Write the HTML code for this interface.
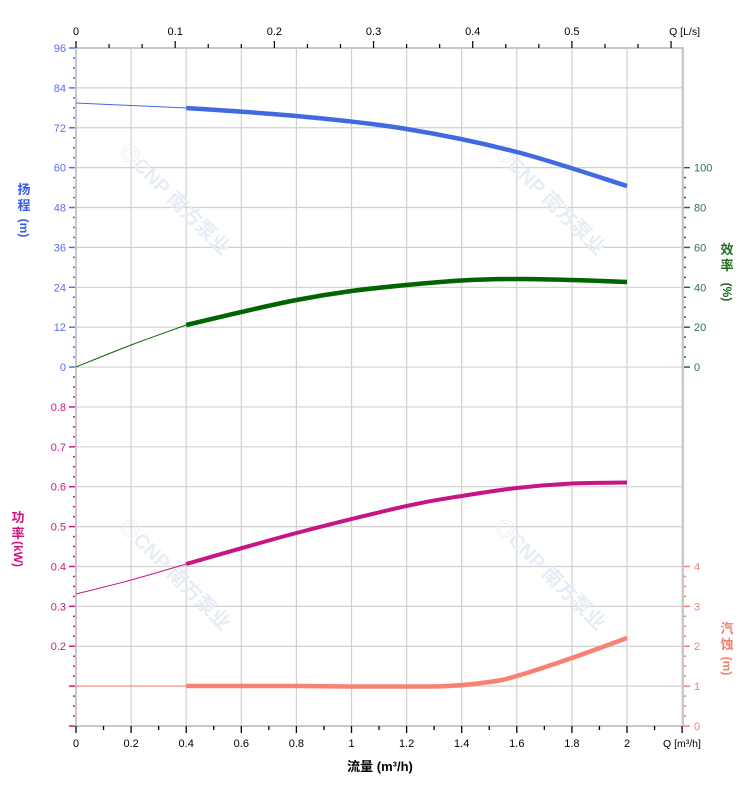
<!DOCTYPE html>
<html><head><meta charset="utf-8"><style>
html,body{margin:0;padding:0;background:#fff;width:752px;height:797px;overflow:hidden}
svg{display:block;font-family:"Liberation Sans","Noto Sans CJK SC",sans-serif}
</style></head><body>
<svg id="s" width="752" height="797" xmlns="http://www.w3.org/2000/svg"></svg>
<script>
var s=document.getElementById('s'),h='';
var X0=76,X1=683,Y0=48,Y1=726,px=275.5,st=(Y1-Y0)/17;
function X(q){return X0+q*px}
function Yr(k){return Y0+k*st}
for(var i=0;i<=11;i++){var x=X0+i*px*0.2;h+='<line x1="'+x+'" y1="'+Y0+'" x2="'+x+'" y2="'+Y1+'" stroke="#d0d0d0" stroke-width="1.2"/>';}
for(var k=0;k<=17;k++){var y=Yr(k);h+='<line x1="'+X0+'" y1="'+y+'" x2="'+X1+'" y2="'+y+'" stroke="#d0d0d0" stroke-width="1.2"/>';}
function wm(x,y){h+='<text x="'+x+'" y="'+y+'" transform="rotate(45 '+x+' '+y+')" font-size="20" font-weight="bold" fill="#e6edf6">◎CNP 南方泵业</text>';}
wm(118,152);wm(493,152);wm(118,527);wm(493,527);
h+='<rect x="'+X0+'" y="'+Y0+'" width="'+(X1-X0)+'" height="'+(Y1-Y0)+'" fill="none" stroke="#c8c8c8" stroke-width="2"/>';
for(var i=0;i<=22;i++){var x=X0+i*px*0.1;h+='<line x1="'+x+'" y1="'+Y1+'" x2="'+x+'" y2="'+(Y1+(i%2?4:7))+'" stroke="#000" stroke-width="1.3"/>';
 if(i%2==0&&i<=20){var v=i/10;h+='<text x="'+x+'" y="747" font-size="11" text-anchor="middle" fill="#000">'+(i==0?'0':i==10?'1':i==20?'2':v.toFixed(1))+'</text>';}}
h+='<text x="663" y="747" font-size="10.5" fill="#000">Q [m³/h]</text>';
h+='<text x="380" y="771" font-size="13" font-weight="bold" text-anchor="middle" fill="#000">流量 (m³/h)</text>';
var tp=px*0.36;
for(var i=0;i<=18;i++){var x=X0+i*tp/3;if(x>X1+1)break;h+='<line x1="'+x+'" y1="'+(Y0-(i%3?4:7))+'" x2="'+x+'" y2="'+Y0+'" stroke="#000" stroke-width="1.2"/>';
 if(i%3==0&&i<=15){h+='<text x="'+x+'" y="35" font-size="11" text-anchor="middle" fill="#000">'+(i==0?'0':(i/30).toFixed(1))+'</text>';}}
h+='<text x="700" y="35" font-size="10.5" text-anchor="end" fill="#000">Q [L/s]</text>';
var blue='#5b6cf0',mag='#d0157f';
for(var k=0;k<=32;k++){var y=Y0+k*st/4,maj=k%4==0;h+='<line x1="'+(X0-(maj?7:3))+'" y1="'+y+'" x2="'+(X0-1)+'" y2="'+y+'" stroke="'+blue+'" stroke-width="1.5"/>';
 if(maj)h+='<text x="66" y="'+(y+4)+'" font-size="11" text-anchor="end" fill="'+blue+'">'+(96-k*3)+'</text>';}
for(var k=33;k<=68;k++){var y=Y0+k*st/4,maj=k%4==0;h+='<line x1="'+(X0-(maj?7:3))+'" y1="'+y+'" x2="'+(X0-1)+'" y2="'+y+'" stroke="'+mag+'" stroke-width="1.5"/>';
 if(maj&&k>=36&&k<=60)h+='<text x="66" y="'+(y+4)+'" font-size="11" text-anchor="end" fill="'+mag+'">'+(0.8-(k-36)/40).toFixed(1)+'</text>';}
h+='<text x="24" y="194" font-size="13" font-weight="bold" text-anchor="middle" fill="#3a5ce0">扬</text><text x="24" y="210" font-size="13" font-weight="bold" text-anchor="middle" fill="#3a5ce0">程</text><text x="24" y="232" font-size="12" font-weight="bold" text-anchor="middle" fill="#3a5ce0" transform="rotate(90 24 228)">(m)</text>';
h+='<text x="18" y="522" font-size="13" font-weight="bold" text-anchor="middle" fill="'+mag+'">功</text><text x="18" y="538" font-size="13" font-weight="bold" text-anchor="middle" fill="'+mag+'">率</text><text x="18" y="558" font-size="12" font-weight="bold" text-anchor="middle" fill="'+mag+'" transform="rotate(90 18 554)">(kW)</text>';
var gr='#1f6b1f';
for(var k=12;k<=32;k++){var y=Y0+k*st/4,maj=k%4==0;h+='<line x1="'+(X1+1)+'" y1="'+y+'" x2="'+(X1+(maj?7:3))+'" y2="'+y+'" stroke="'+gr+'" stroke-width="1.5"/>';
 if(maj)h+='<text x="694" y="'+(y+4)+'" font-size="11" fill="#2e6e5e">'+((32-k)*5)+'</text>';}
for(var k=52;k<=68;k++){var y=Y0+k*st/4,maj=k%4==0;h+='<line x1="'+(X1+1)+'" y1="'+y+'" x2="'+(X1+(maj?7:3))+'" y2="'+y+'" stroke="#f08070" stroke-width="1.5"/>';
 if(maj)h+='<text x="694" y="'+(y+4)+'" font-size="11" fill="#f08070">'+((68-k)/4)+'</text>';}
h+='<text x="727" y="254" font-size="13" font-weight="bold" text-anchor="middle" fill="'+gr+'">效</text><text x="727" y="270" font-size="13" font-weight="bold" text-anchor="middle" fill="'+gr+'">率</text><text x="727" y="296" font-size="12" font-weight="bold" text-anchor="middle" fill="'+gr+'" transform="rotate(90 727 292)">(%)</text>';
h+='<text x="727" y="633" font-size="13" font-weight="bold" text-anchor="middle" fill="#f08070">汽</text><text x="727" y="649" font-size="13" font-weight="bold" text-anchor="middle" fill="#f08070">蚀</text><text x="727" y="670" font-size="12" font-weight="bold" text-anchor="middle" fill="#f08070" transform="rotate(90 727 666)">(m)</text>';
function path(pts){var d='M'+X(pts[0][0])+','+pts[0][1];for(var i=1;i<pts.length;i++){var p0=pts[Math.max(0,i-2)],p1=pts[i-1],p2=pts[i],p3=pts[Math.min(pts.length-1,i+1)];
 var c1x=X(p1[0])+(X(p2[0])-X(p0[0]))/6,c1y=p1[1]+(p2[1]-p0[1])/6,c2x=X(p2[0])-(X(p3[0])-X(p1[0]))/6,c2y=p2[1]-(p3[1]-p1[1])/6;d+=' C'+c1x+','+c1y+' '+c2x+','+c2y+' '+X(p2[0])+','+p2[1];}return d;}
function curve(thin,thick,col,w){h+='<path d="'+path(thin)+'" fill="none" stroke="'+col+'" stroke-width="1"/>';h+='<path d="'+path(thick)+'" fill="none" stroke="'+col+'" stroke-width="'+w+'"/>';}
curve([[0,103],[0.2,105.5],[0.4,108]],[[0.4,108],[0.8,116],[1.2,129],[1.6,152],[2,186]],'#4169e1',4.5);
curve([[0,367],[0.2,345],[0.4,325]],[[0.4,325],[0.6,312],[0.8,300],[1.0,291],[1.2,285],[1.4,280.5],[1.6,279],[1.8,280],[2,282]],'#006400',4.5);
curve([[0,594],[0.2,580],[0.4,564]],[[0.4,564],[0.8,533],[1.2,506],[1.4,496],[1.6,488],[1.8,483.5],[2,482.5]],'#c71585',4);
curve([[0,686],[0.4,686]],[[0.4,686],[0.8,686],[1.0,686.5],[1.2,686.5],[1.35,686],[1.5,682],[1.6,676],[1.8,658],[2,638]],'#fa8072',4.5);
s.innerHTML=h;
</script>
</body></html>
